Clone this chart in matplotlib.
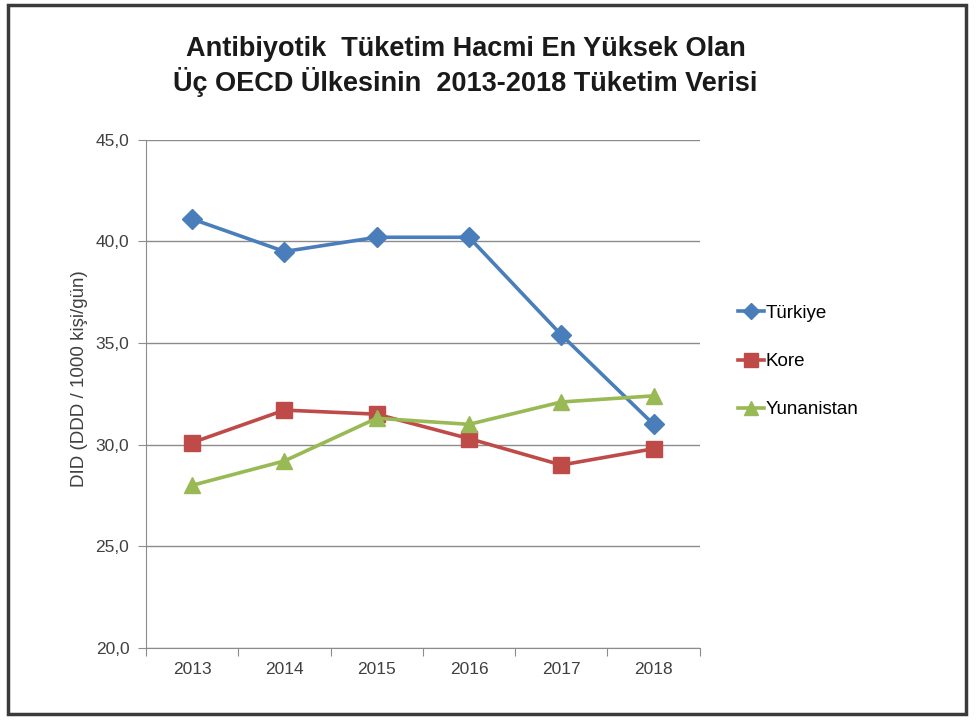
import numpy as np
import matplotlib.pyplot as plt
from matplotlib.patches import Rectangle

plt.rcParams['font.family'] = ['Liberation Sans', 'DejaVu Sans']

# Data
years = ['2013', '2014', '2015', '2016', '2017', '2018']
turkiye = [41.1, 39.5, 40.2, 40.2, 35.4, 31.0]
kore = [30.1, 31.7, 31.5, 30.3, 29.0, 29.8]
yunanistan = [28.0, 29.2, 31.3, 31.0, 32.1, 32.4]

yticks = [20, 25, 30, 35, 40, 45]

fig = plt.figure(figsize=(9.8, 7.2), dpi=100)
ax = fig.add_axes([0.149, 0.1, 0.565, 0.706])

x = np.arange(len(years))
ax.plot(x, turkiye, color='#4a7ebb', lw=2.6, marker='D', ms=10, label='Türkiye', zorder=5)
ax.plot(x, kore, color='#be4b48', lw=2.6, marker='s', ms=12, label='Kore', zorder=4)
ax.plot(x, yunanistan, color='#98b954', lw=2.6, marker='^', ms=12, label='Yunanistan', zorder=6)

ax.set_xlim(-0.5, len(years) - 0.5)
ax.set_ylim(20, 45)
ax.set_yticks(yticks)
ax.set_yticklabels([f'{v:.1f}'.replace('.', ',') for v in yticks], fontsize=12.5, color='#404040')
ax.yaxis.grid(True, color='#8c8c8c', lw=1)
ax.set_axisbelow(True)

# ticks between categories, labels in the middle
ax.set_xticks(np.arange(-0.5, len(years), 1.0))
ax.set_xticklabels([])
ax.set_xticks(x, minor=True)
ax.set_xticklabels(years, minor=True, fontsize=12.5, color='#404040')
ax.tick_params(axis='x', which='major', length=6, color='#8c8c8c')
ax.tick_params(axis='x', which='minor', length=0, pad=10)
ax.tick_params(axis='y', length=6, color='#8c8c8c', pad=6)

for s in ['top', 'right']:
    ax.spines[s].set_visible(False)
for s in ['left', 'bottom']:
    ax.spines[s].set_color('#8c8c8c')

ax.set_ylabel('DID (DDD / 1000 kişi/gün)', fontsize=13.5, color='#404040', labelpad=4)
ax.yaxis.set_label_coords(-0.105, 0.53)

fig.text(0.475, 0.908, 'Antibiyotik  Tüketim Hacmi En Yüksek Olan\nÜç OECD Ülkesinin  2013-2018 Tüketim Verisi',
         ha='center', va='center', fontsize=19.5, fontweight='bold', linespacing=1.2, color='#1a1a1a')

fig.legend(loc='upper left', bbox_to_anchor=(0.736, 0.6), frameon=False, fontsize=13.5,
           handlelength=1.4, handletextpad=0.05, labelspacing=1.65, markerscale=0.85)

# outer frame
fig.patches.append(Rectangle((0.008, 0.008), 0.978, 0.985, transform=fig.transFigure,
                             fill=False, edgecolor='#3a3a3a', lw=2.5))

fig.savefig('out.png', dpi=100)
